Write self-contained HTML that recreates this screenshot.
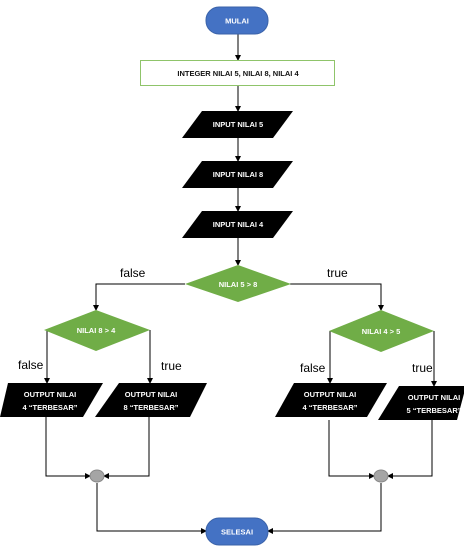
<!DOCTYPE html>
<html><head><meta charset="utf-8"><style>
html,body{margin:0;padding:0;background:#fff;}
svg{display:block;}
.n{font-family:"Liberation Sans",sans-serif;font-size:7.5px;font-weight:bold;fill:#fff;text-anchor:middle;}
.l{font-family:"Liberation Sans",sans-serif;font-size:12px;fill:#000;}
line,polyline{stroke:#000;stroke-width:1;fill:none;}
</style></head><body>
<svg width="464" height="554" viewBox="0 0 464 554" xmlns="http://www.w3.org/2000/svg">
<defs><marker id="a" markerWidth="6" markerHeight="6" refX="5" refY="3" orient="auto" markerUnits="userSpaceOnUse"><path d="M0,0 L6,3 L0,6z" fill="#000"/></marker></defs>
<!-- connectors -->
<line x1="238" y1="34" x2="238" y2="60" marker-end="url(#a)"/>
<line x1="238" y1="86" x2="238" y2="111" marker-end="url(#a)"/>
<line x1="238" y1="138" x2="238" y2="161" marker-end="url(#a)"/>
<line x1="238" y1="188" x2="238" y2="211" marker-end="url(#a)"/>
<line x1="238" y1="238" x2="238" y2="265" marker-end="url(#a)"/>
<polyline points="185,284 96,284 96,310" marker-end="url(#a)"/>
<polyline points="290,284 381,284 381,310" marker-end="url(#a)"/>
<line x1="47" y1="330" x2="47" y2="383" marker-end="url(#a)"/>
<line x1="150" y1="330" x2="150" y2="383" marker-end="url(#a)"/>
<line x1="330" y1="331" x2="330" y2="383" marker-end="url(#a)"/>
<line x1="434" y1="331" x2="434" y2="386" marker-end="url(#a)"/>
<polyline points="46,417 46,476 90,476" marker-end="url(#a)"/>
<polyline points="149,417 149,476 104,476" marker-end="url(#a)"/>
<polyline points="329,420 329,476 374,476" marker-end="url(#a)"/>
<polyline points="432,420 432,476 388,476" marker-end="url(#a)"/>
<polyline points="97,483 97,531 206,531" marker-end="url(#a)"/>
<polyline points="381,483 381,531 268,531" marker-end="url(#a)"/>
<!-- nodes -->
<rect x="206" y="7" width="62" height="27" rx="13" fill="#4472c4" stroke="#3a62a8"/>
<text class="n" x="237" y="23.5">MULAI</text>
<rect x="140.5" y="60.5" width="194" height="25" fill="#fff" stroke="#8fc46a"/>
<text class="n" x="238" y="76" style="fill:#111">INTEGER NILAI 5, NILAI 8, NILAI 4</text>
<polygon points="202,111 293,111 273,138 182,138" fill="#000"/>
<text class="n" x="238" y="127">INPUT NILAI 5</text>
<polygon points="202,161 293,161 273,188 182,188" fill="#000"/>
<text class="n" x="238" y="177">INPUT NILAI 8</text>
<polygon points="202,211 293,211 273,238 182,238" fill="#000"/>
<text class="n" x="238" y="227">INPUT NILAI 4</text>
<polygon points="238,265 291,284 238,302 185,284" fill="#70ad47"/>
<text class="n" x="238" y="287">NILAI 5 &gt; 8</text>
<polygon points="96,310 150,330 96,351 44,330" fill="#70ad47"/>
<text class="n" x="96" y="333">NILAI 8 &gt; 4</text>
<polygon points="381,310 434,331 381,352 329,331" fill="#70ad47"/>
<text class="n" x="381" y="334">NILAI 4 &gt; 5</text>
<polygon points="8,383 103,383 83,417 0,417" fill="#000"/>
<text class="n" x="50" y="397">OUTPUT NILAI</text><text class="n" x="50" y="410">4 “TERBESAR”</text>
<polygon points="119,383 207,383 190,417 95,417" fill="#000"/>
<text class="n" x="151" y="397">OUTPUT NILAI</text><text class="n" x="151" y="410">8 “TERBESAR”</text>
<polygon points="294,383 387,383 367,417 275,417" fill="#000"/>
<text class="n" x="330" y="397">OUTPUT NILAI</text><text class="n" x="330" y="410">4 “TERBESAR”</text>
<polygon points="399,386 466,386 457,420 378,420" fill="#000"/>
<text class="n" x="434" y="400">OUTPUT NILAI</text><text class="n" x="434" y="413">5 “TERBESAR”</text>
<ellipse cx="97" cy="476" rx="7" ry="6" fill="#a5a5a5" stroke="#888"/>
<ellipse cx="381" cy="476" rx="7" ry="6" fill="#a5a5a5" stroke="#888"/>
<rect x="206" y="518" width="62" height="27" rx="13" fill="#4472c4" stroke="#3a62a8"/>
<text class="n" x="237" y="534.5">SELESAI</text>
<!-- labels -->
<text class="l" x="120" y="277">false</text>
<text class="l" x="327" y="277">true</text>
<text class="l" x="18" y="369">false</text>
<text class="l" x="161" y="370">true</text>
<text class="l" x="300" y="372">false</text>
<text class="l" x="412" y="372">true</text>
</svg>
</body></html>
